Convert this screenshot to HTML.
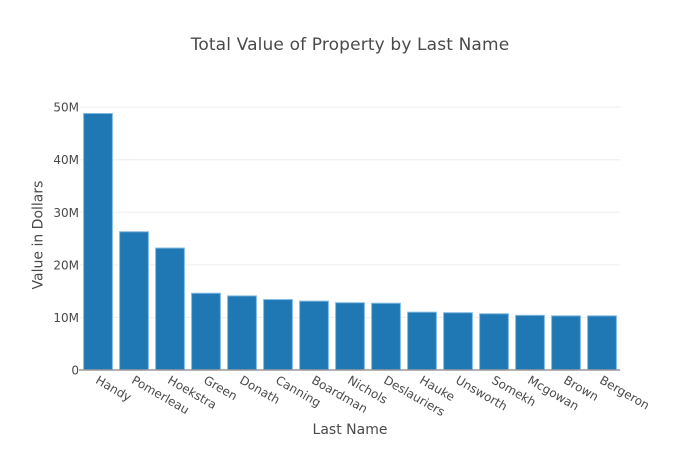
<!DOCTYPE html>
<html>
<head>
<meta charset="utf-8">
<style>
html,body{margin:0;padding:0;background:#fff;}
svg{display:block;}
text{font-family:"DejaVu Sans","Liberation Sans",sans-serif;fill:#4a4a4a;}
</style>
</head>
<body>
<svg id="chart" width="700" height="450" viewBox="0 0 700 450" xmlns="http://www.w3.org/2000/svg">
<text x="350" y="50" text-anchor="middle" font-size="17" letter-spacing="0.14">Total Value of Property by Last Name</text>
<text x="350" y="434" text-anchor="middle" font-size="14">Last Name</text>
<text transform="translate(42.5,235) rotate(-90)" text-anchor="middle" font-size="14">Value in Dollars</text>
<g id="grid"></g>
<g id="bars"></g>
<g id="yticks"></g>
<g id="xticks"></g>
<line x1="79" x2="620" y1="370" y2="370" stroke="#999" stroke-width="1.5"></line>
</svg>
<script>
const categories = ["Handy","Pomerleau","Hoekstra","Green","Donath","Canning","Boardman","Nichols","Deslauriers","Hauke","Unsworth","Somekh","Mcgowan","Brown","Bergeron"];
const seriesValues = [48.8,26.3,23.2,14.6,14.1,13.4,13.1,12.8,12.7,11.0,10.9,10.7,10.4,10.3,10.3];
const yTickValues = [0,10,20,30,40,50];
const yTickLabels = ["0","10M","20M","30M","40M","50M"];

const NS = "http://www.w3.org/2000/svg";
const plotLeft = 80, plotRight = 620, plotTop = 100, plotBottom = 370;
const yMax = Math.max(50, Math.max.apply(null, seriesValues) * 1.0526);
function yScale(v){ return plotBottom - (v / yMax) * (plotBottom - plotTop); }
function bandWidth(){ return (plotRight - plotLeft) / categories.length; }
function xCenter(i){ return plotLeft + bandWidth() * (i + 0.5); }

const gridGroup = document.getElementById("grid");
const yTickGroup = document.getElementById("yticks");
yTickValues.forEach(function(v, i){
  const y = yScale(v);
  if (v !== 0) {
    const line = document.createElementNS(NS, "line");
    
    
    line.setAttribute("x1", plotLeft);
    line.setAttribute("x2", plotRight);
    line.setAttribute("y1", y);
    line.setAttribute("y2", y);
    line.setAttribute("stroke", "#eee");
    line.setAttribute("stroke-width", "1");
    gridGroup.appendChild(line);
  }
  const label = document.createElementNS(NS, "text");
  
  
  label.setAttribute("x", plotLeft - 1);
  label.setAttribute("y", y + 4.5);
  label.setAttribute("text-anchor", "end");
  label.setAttribute("font-size", "12");
  label.textContent = yTickLabels[i];
  yTickGroup.appendChild(label);
});

const barGroup = document.getElementById("bars");
const xTickGroup = document.getElementById("xticks");
categories.forEach(function(name, i){
  const w = bandWidth() * 0.8;
  const cx = xCenter(i);
  const top = yScale(seriesValues[i]);
  const bar = document.createElementNS(NS, "rect");
  
  
  bar.setAttribute("x", cx - w / 2);
  bar.setAttribute("y", top);
  bar.setAttribute("width", w);
  bar.setAttribute("height", plotBottom - top);
  bar.setAttribute("fill", "#1f77b4");
  bar.setAttribute("stroke", "#7fb8e0");
  bar.setAttribute("stroke-width", "1");
  barGroup.appendChild(bar);

  const label = document.createElementNS(NS, "text");
  
  
  label.setAttribute("transform", "translate(" + (cx - 3.2) + ",382.5) rotate(30)");
  label.setAttribute("font-size", "12");
  label.textContent = name;
  xTickGroup.appendChild(label);
});
</script>
</body>
</html>
